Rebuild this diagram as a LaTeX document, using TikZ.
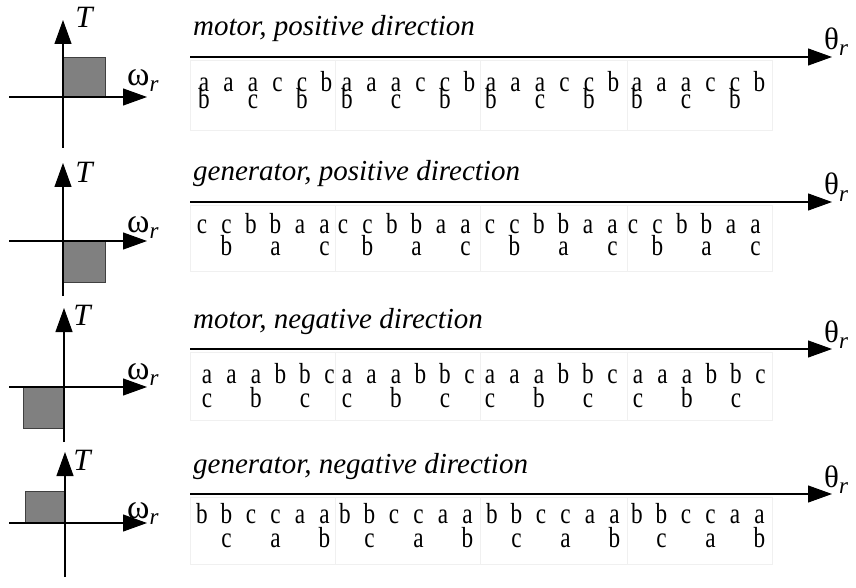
\documentclass[tikz,border=0pt]{standalone}
\usepackage{graphicx}
\usepackage{fontspec}
\setmainfont{Liberation Serif}
\usetikzlibrary{arrows.meta}
\definecolor{sqfill}{HTML}{808080}
\definecolor{sqdraw}{HTML}{404040}
\definecolor{faint}{HTML}{F0F0F0}
\newcommand\narrow[1]{\scalebox{0.8}[1]{#1}}
\newcommand\lrow[6]{%
  \foreach \bx [count=\j] in {#2}{%
    \foreach \c [count=\k] in {#3}{%
      \node[lt] (#1t\j-\k) at ({\bx+24.5*(\k-1)},#4) {\narrow{\c}};}%
    \foreach \c/\k in {#5}{%
      \node[lt] (#1b\j-\k) at ({\bx+24.5*\k},#6) {\narrow{\c}};}%
  }}
\newcommand\subr{\raisebox{-6pt}{\itshape\fontsize{23}{23}\selectfont r}}
\begin{document}
\begin{tikzpicture}[x=1pt,y=-1pt,
  axis/.style={line width=1.1pt,-{Triangle[length=24pt,width=17pt]}},
  sq/.style={fill=sqfill,draw=sqdraw,line width=0.8pt},
  grid/.style={draw=faint,line width=0.6pt},
  lt/.style={font=\fontsize{29}{29}\selectfont,inner sep=0pt,anchor=base},
  ttl/.style={font=\itshape\fontsize{29}{30}\selectfont,inner sep=0pt,anchor=base west},
  tlab/.style={font=\itshape\fontsize{31}{31}\selectfont,inner sep=0pt},
  wlab/.style={font=\fontsize{34}{34}\selectfont,inner sep=0pt,anchor=base west},
  thlab/.style={font=\fontsize{31}{31}\selectfont,inner sep=0pt,anchor=base west}]
\useasboundingbox (0,0) rectangle (856,588);

% ---------- panel 1 ----------
\coordinate (v1b) at (63,148); \coordinate (v1t) at (63,20);
\coordinate (h1l) at (9,97); \coordinate (h1r) at (147,97);
\draw[sq] (63,57) rectangle (105,97);
\draw[axis] (v1b) -- (v1t);
\draw[axis] (h1l) -- (h1r);
\node[tlab] (T1) at (84,17) {T};
\node[wlab] (w1) at (127,86) {ω\subr};
\node[ttl] (ti1) at (193,36) {motor, positive direction};
\coordinate (L1a) at (190,57); \coordinate (L1b) at (832,57);
\draw[grid] (190,60) rectangle (772,130);
\foreach \xx in {335,480,627} \draw[grid] (\xx,60) -- (\xx,130);
\draw[axis] (L1a) -- (L1b);
\node[thlab] (th1) at (824,50) {θ\subr};
\lrow{pA}{204,347,491,637}{a,a,a,c,c,b}{92}{b/0,c/2,b/4}{109}

% ---------- panel 2 ----------
\coordinate (v2b) at (63,296); \coordinate (v2t) at (63,163);
\coordinate (h2l) at (9,241); \coordinate (h2r) at (147,241);
\draw[sq] (63,241) rectangle (105,282);
\draw[axis] (v2b) -- (v2t);
\draw[axis] (h2l) -- (h2r);
\node[tlab] (T2) at (84,172) {T};
\node[wlab] (w2) at (127,232) {ω\subr};
\node[ttl] (ti2) at (193,181) {generator, positive direction};
\coordinate (L2a) at (190,202); \coordinate (L2b) at (832,202);
\draw[grid] (190,205) rectangle (772,271);
\foreach \xx in {335,480,627} \draw[grid] (\xx,205) -- (\xx,271);
\draw[axis] (L2a) -- (L2b);
\node[thlab] (th2) at (824,195) {θ\subr};
\lrow{pB}{202,343,490,633}{c,c,b,b,a,a}{233}{b/1,a/3,c/5}{255}

% ---------- panel 3 ----------
\coordinate (v3b) at (64,442); \coordinate (v3t) at (64,308);
\coordinate (h3l) at (9,387); \coordinate (h3r) at (147,387);
\draw[sq] (23,387) rectangle (64,428);
\draw[axis] (v3b) -- (v3t);
\draw[axis] (h3l) -- (h3r);
\node[tlab] (T3) at (82,315) {T};
\node[wlab] (w3) at (127,379) {ω\subr};
\node[ttl] (ti3) at (193,328) {motor, negative direction};
\coordinate (L3a) at (190,349); \coordinate (L3b) at (832,349);
\draw[grid] (190,352) rectangle (772,420);
\foreach \xx in {335,480,627} \draw[grid] (\xx,352) -- (\xx,420);
\draw[axis] (L3a) -- (L3b);
\node[thlab] (th3) at (824,342) {θ\subr};
\lrow{pC}{207,347,490,638}{a,a,a,b,b,c}{383}{c/0,b/2,c/4}{407}

% ---------- panel 4 ----------
\coordinate (v4b) at (65,577); \coordinate (v4t) at (65,452);
\coordinate (h4l) at (9,523); \coordinate (h4r) at (147,523);
\draw[sq] (25,491) rectangle (65,523);
\draw[axis] (v4b) -- (v4t);
\draw[axis] (h4l) -- (h4r);
\node[tlab] (T4) at (82,460) {T};
\node[wlab] (w4) at (127,518) {ω\subr};
\node[ttl] (ti4) at (193,473) {generator, negative direction};
\coordinate (L4a) at (190,494); \coordinate (L4b) at (832,494);
\draw[grid] (190,497) rectangle (772,564);
\foreach \xx in {335,480,627} \draw[grid] (\xx,497) -- (\xx,564);
\draw[axis] (L4a) -- (L4b);
\node[thlab] (th4) at (824,487) {θ\subr};
\lrow{pD}{202,345,492,637}{b,b,c,c,a,a}{523}{c/1,a/3,b/5}{547}
\end{tikzpicture}
\end{document}
